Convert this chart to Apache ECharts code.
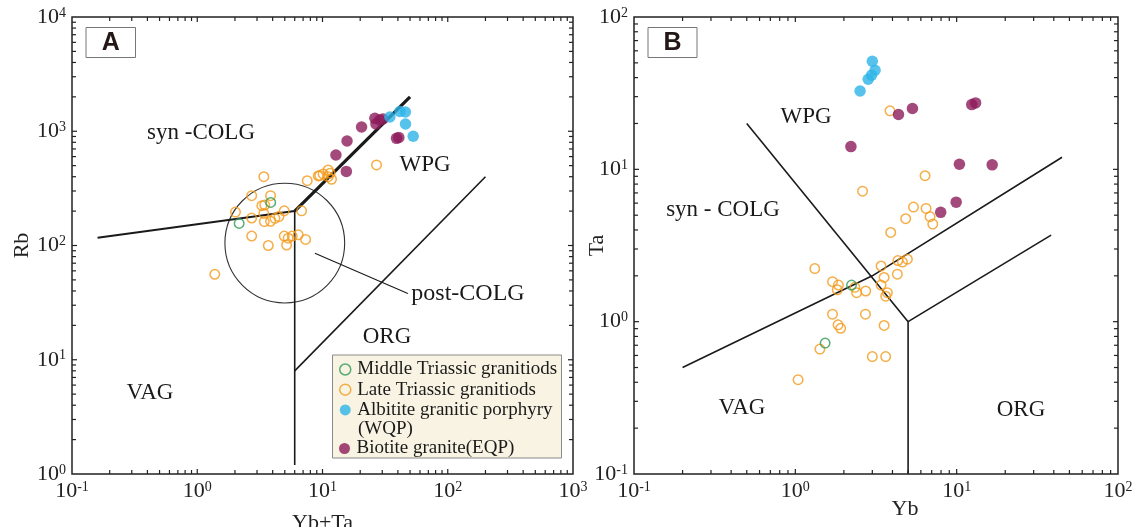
<!DOCTYPE html>
<html>
<head>
<meta charset="utf-8">
<script src="https://cdn.jsdelivr.net/npm/echarts@6.0.0/dist/echarts.min.js"></script>
<style>
  html, body { margin: 0; padding: 0; background: #fff; }
  #main { width: 1132px; height: 527px; }
</style>
</head>
<body>
<div id="main"></div>
<script>
// 构造判别图 A: Rb - (Yb+Ta), B: Ta - Yb
const SERIF = "'Liberation Serif', 'Times New Roman', serif"
const GREEN = '#2e9b55'
const ORANGE = '#f39a1a'
const BLUE = '#2db4e8'
const MAROON = '#8c1c5a'

const NAME_MID = 'Middle Triassic granitiods'
const NAME_LATE = 'Late Triassic granitiods'
const NAME_ALB = 'Albitite granitic porphyry'
const NAME_BIO = 'Biotite granite(EQP)'

// ---- panel A data [Yb+Ta, Rb] ----
const aMidTri = [[3.86, 238], [2.16, 156]]
const aLateTri = [
  [1.38, 56], [2.02, 196], [2.72, 273], [3.40, 400], [3.85, 273], [3.28, 223],
  [3.46, 226], [2.72, 174], [3.40, 191], [3.43, 162], [3.85, 163], [4.17, 173],
  [4.49, 179], [4.95, 201], [6.81, 201], [2.72, 121], [3.69, 100], [4.95, 121],
  [5.32, 116], [5.73, 121], [6.40, 124], [7.33, 113], [5.17, 101], [7.55, 369],
  [9.25, 406], [9.5, 410], [10.1, 423], [11.1, 458], [11.5, 429], [11.1, 400],
  [11.8, 380], [27.0, 507]
]
const aAlbitite = [[34.5, 1334], [41.5, 1489], [45.9, 1473], [46.0, 1157], [53.0, 904]]
const aBiotite = [
  [12.8, 620], [15.7, 822], [20.5, 1089], [26.2, 1297], [28.7, 1254],
  [26.7, 1157], [30.4, 1280], [15.5, 445], [39.0, 867], [40.7, 881]
]

// ---- panel B data [Yb, Ta] ----
const bMidTri = [[2.23, 1.74], [1.53, 0.723]]
const bLateTri = [
  [3.86, 24.2], [2.61, 7.19], [6.37, 9.08], [5.40, 5.65], [6.46, 5.54], [6.84, 4.89],
  [7.11, 4.37], [4.83, 4.74], [3.90, 3.85], [1.32, 2.23], [1.70, 1.83], [1.85, 1.74],
  [1.82, 1.62], [2.34, 1.68], [2.40, 1.55], [2.73, 1.59], [3.40, 2.32], [3.55, 1.95],
  [3.40, 1.74], [3.72, 1.55], [3.63, 1.47], [4.29, 2.05], [4.32, 2.52], [4.61, 2.46],
  [4.95, 2.57], [1.70, 1.12], [2.72, 1.12], [1.84, 0.953], [1.91, 0.905], [3.55, 0.944],
  [1.42, 0.661], [3.00, 0.590], [3.63, 0.590], [1.04, 0.416]
]
const bAlbitite = [[3.00, 51.2], [3.12, 44.7], [2.97, 41.5], [2.83, 39.0], [2.52, 32.7]]
const bBiotite = [
  [4.36, 22.9], [5.32, 25.1], [12.4, 26.6], [13.1, 27.3], [2.21, 14.1],
  [10.4, 10.8], [16.6, 10.7], [9.93, 6.09], [7.96, 5.22]
]

// ---- field boundaries ----
const aLineVagSyn = [[0.16, 117], [6, 200]]
const aLineSynWpg = [[6, 200], [50, 2000]]
const aLineVert = [[6, 200], [6, 1.2]]
const aLineWpgOrg = [[6, 8], [200, 400]]
const aPostLeader = [[8.7, 85.5], [48, 38]]
const aCircleCenter = [5, 105]
const aCircleRadiusDec = 0.5

const bLineSyn = [[0.5, 20], [5, 1]]
const bLineVag = [[0.2, 0.5], [3, 2], [45, 12]]
const bLineVert = [[5, 1], [5, 0.1]]
const bLineOrg = [[5, 1], [38.5, 3.7]]

// ---- axis ticks (decades) ----
const aXMajor = [0.1, 1, 10, 100, 1000]
const aYMajor = [1, 10, 100, 1000, 10000]
const bXMajor = [0.1, 1, 10, 100]
const bYMajor = [0.1, 1, 10, 100]

function withMinor(majors) {
  const out = []
  majors.forEach((m, i) => {
    out.push({ v: m, len: 5 })
    if (i < majors.length - 1) {
      for (let k = 2; k <= 9; k++) out.push({ v: m * k, len: 4 })
    }
  })
  return out
}

function tickSeries(gi, xTicks, yTicks, anchor) {
  return {
    type: 'custom',
    xAxisIndex: gi,
    yAxisIndex: gi,
    silent: true,
    clip: false,
    z: 5,
    data: [anchor],
    renderItem: (params, api) => {
      const cs = params.coordSys
      const left = cs.x, top = cs.y, right = cs.x + cs.width, bottom = cs.y + cs.height
      const kids = []
      const seg = (x1, y1, x2, y2) => kids.push({
        type: 'line',
        shape: { x1, y1, x2, y2 },
        style: { stroke: '#222', lineWidth: 1.2 }
      })
      xTicks.forEach(t => {
        const px = api.coord([t.v, anchor[1]])[0]
        if (px <= left + 1 || px >= right - 1) return
        seg(px, bottom, px, bottom - t.len)
        seg(px, top, px, top + t.len)
      })
      yTicks.forEach(t => {
        const py = api.coord([anchor[0], t.v])[1]
        if (py <= top + 1 || py >= bottom - 1) return
        seg(left, py, left + t.len, py)
        seg(right, py, right - t.len, py)
      })
      return { type: 'group', children: kids }
    }
  }
}

function boundary(gi, data, width) {
  return {
    type: 'line',
    xAxisIndex: gi,
    yAxisIndex: gi,
    data: data,
    symbol: 'none',
    silent: true,
    z: 3,
    lineStyle: { color: '#1a1a1a', width: width }
  }
}

function points(gi, name, data, color, hollow) {
  return {
    type: 'scatter',
    name: name,
    xAxisIndex: gi,
    yAxisIndex: gi,
    data: data,
    symbol: 'circle',
    symbolSize: hollow ? 9.5 : 11.5,
    z: 6,
    itemStyle: hollow
      ? { color: 'rgba(0,0,0,0)', borderColor: color, borderWidth: 1.5 }
      : { color: color }
  }
}

const labelFmt = v => '{m|10}{s|' + Math.round(Math.log10(v)) + '}'
const labelRich = {
  m: { fontFamily: SERIF, fontSize: 22, color: '#222', lineHeight: 22 },
  s: { fontFamily: SERIF, fontSize: 14, color: '#222', lineHeight: 14, verticalAlign: 'top' }
}

function logAxis(gi, min, max, extra) {
  return Object.assign({
    type: 'log',
    logBase: 10,
    gridIndex: gi,
    min: min,
    max: max,
    axisLine: { show: false },
    axisTick: { show: false },
    splitLine: { show: false },
    axisLabel: { formatter: labelFmt, rich: labelRich, margin: 6 },
    nameLocation: 'middle',
    nameMoveOverlap: false,
    nameTextStyle: { fontFamily: SERIF, fontSize: 22, color: '#222' }
  }, extra)
}

function regionText(x, y, text, size) {
  return {
    type: 'text',
    x: x,
    y: y,
    silent: true,
    style: {
      text: text,
      fontFamily: SERIF,
      fontSize: size || 23,
      fill: '#1a1a1a',
      align: 'center',
      verticalAlign: 'middle'
    }
  }
}

function panelTag(x, y, w, h, text) {
  return [
    { type: 'rect', shape: { x: x, y: y, width: w, height: h },
      style: { fill: '#fff', stroke: '#777', lineWidth: 1 }, z: 10 },
    { type: 'text', x: x + w / 2, y: y + h / 2 + 1, z: 11,
      style: { text: text, fontFamily: "'Liberation Sans', Arial, sans-serif",
        fontWeight: 'bold', fontSize: 25, fill: '#231815', align: 'center', verticalAlign: 'middle' } }
  ]
}

const aCircle = {
  type: 'custom',
  xAxisIndex: 0,
  yAxisIndex: 0,
  silent: true,
  z: 2,
  data: [aCircleCenter],
  renderItem: (params, api) => {
    const c = api.coord(aCircleCenter)
    const ex = api.coord([aCircleCenter[0] * Math.pow(10, aCircleRadiusDec), aCircleCenter[1]])
    const ey = api.coord([aCircleCenter[0], aCircleCenter[1] * Math.pow(10, aCircleRadiusDec)])
    const r = ((ex[0] - c[0]) + (c[1] - ey[1])) / 2
    return {
      type: 'circle',
      shape: { cx: c[0], cy: c[1], r: r },
      style: { stroke: '#333', fill: 'none', lineWidth: 1.1 }
    }
  }
}

const legendText = { fontFamily: SERIF, fontSize: 19, color: '#1a1a1a', lineHeight: 17 }
const hollowIcon = c => ({ color: 'rgba(0,0,0,0)', borderColor: c, borderWidth: 1.5 })

const option = {
  animation: false,
  backgroundColor: '#fff',
  grid: [
    { left: 72, top: 17, width: 501, height: 457, outerBoundsMode: 'none',
      show: true, borderColor: '#222', borderWidth: 1.5 },
    { left: 634, top: 17, width: 484, height: 457, outerBoundsMode: 'none',
      show: true, borderColor: '#222', borderWidth: 1.5 }
  ],
  xAxis: [
    logAxis(0, 0.1, 1000, { name: 'Yb+Ta', nameGap: 38 }),
    logAxis(1, 0.1, 100, { name: 'Yb', nameGap: 24,
      nameTextStyle: { fontFamily: SERIF, fontSize: 22, color: '#222', padding: [0, 0, 0, 58] } })
  ],
  yAxis: [
    logAxis(0, 1, 10000, { name: 'Rb', nameGap: 39 }),
    logAxis(1, 0.1, 100, { name: 'Ta', nameGap: 26 })
  ],
  legend: [
    {
      left: 339, top: 360, orient: 'vertical', padding: 0, itemGap: 1.2,
      itemWidth: 14, itemHeight: 11, icon: 'circle', selectedMode: false,
      textStyle: legendText,
      data: [
        { name: NAME_MID, itemStyle: hollowIcon(GREEN) },
        { name: NAME_LATE, itemStyle: hollowIcon(ORANGE) },
        { name: NAME_ALB, itemStyle: { color: BLUE } }
      ]
    },
    {
      left: 339, top: 439, orient: 'vertical', padding: 0,
      itemWidth: 14, itemHeight: 11, icon: 'circle', selectedMode: false,
      textStyle: legendText,
      data: [{ name: NAME_BIO, itemStyle: { color: MAROON } }]
    }
  ],
  graphic: [
    { type: 'rect', shape: { x: 332.5, y: 355, width: 229, height: 103 }, z: 1,
      style: { fill: '#f8f3e2', stroke: '#8a8a8a', lineWidth: 1 } },
    { type: 'text', x: 358, y: 429, z: 10,
      style: { text: '(WQP)', fontFamily: SERIF, fontSize: 19, fill: '#1a1a1a', verticalAlign: 'middle' } },
    ...panelTag(86, 27.5, 49.5, 30, 'A'),
    ...panelTag(648, 27.5, 49, 30, 'B'),
    regionText(201, 133, 'syn -COLG'),
    regionText(425, 165, 'WPG'),
    regionText(468, 294, 'post-COLG', 24),
    regionText(387, 337, 'ORG'),
    regionText(150, 393, 'VAG'),
    regionText(806, 117, 'WPG'),
    regionText(723, 210, 'syn - COLG'),
    regionText(742, 408, 'VAG'),
    regionText(1021, 410, 'ORG')
  ],
  series: [
    tickSeries(0, withMinor(aXMajor), withMinor(aYMajor), [1, 10]),
    tickSeries(1, withMinor(bXMajor), withMinor(bYMajor), [1, 1]),
    aCircle,
    boundary(0, aLineVagSyn, 2),
    boundary(0, aLineSynWpg, 3.2),
    boundary(0, aLineVert, 1.6),
    boundary(0, aLineWpgOrg, 1.6),
    boundary(0, aPostLeader, 1.1),
    boundary(1, bLineSyn, 1.6),
    boundary(1, bLineVag, 1.6),
    boundary(1, bLineVert, 1.6),
    boundary(1, bLineOrg, 1.6),
    points(0, NAME_LATE, aLateTri, ORANGE, true),
    points(0, NAME_MID, aMidTri, GREEN, true),
    points(0, NAME_BIO, aBiotite, MAROON, false),
    points(0, NAME_ALB, aAlbitite, BLUE, false),
    points(1, NAME_LATE, bLateTri, ORANGE, true),
    points(1, NAME_MID, bMidTri, GREEN, true),
    points(1, NAME_BIO, bBiotite, MAROON, false),
    points(1, NAME_ALB, bAlbitite, BLUE, false)
  ]
}

const chart = echarts.init(document.getElementById('main'))
chart.setOption(option)
</script>
</body>
</html>
